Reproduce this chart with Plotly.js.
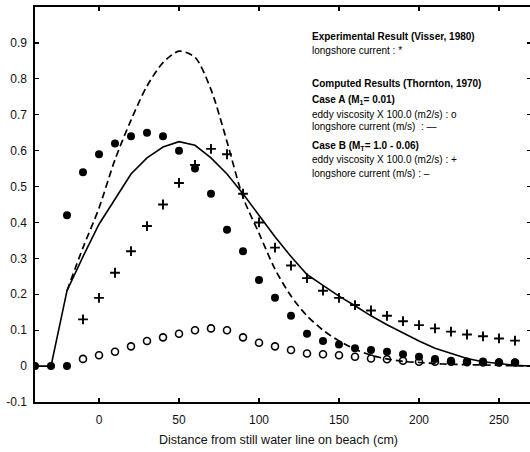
<!DOCTYPE html>
<html>
<head>
<meta charset="utf-8">
<script src="https://cdn.plot.ly/plotly-3.0.1.min.js"></script>
<style>
html,body{margin:0;padding:0;background:#fff;overflow:hidden;}
#chart{width:532px;height:452px;}
</style>
</head>
<body>
<div id="chart"></div>
<script>
// Experimental result (Visser, 1980): longshore current (filled dots)
var xExp = [-40,-30,-20,-20,-10,0,10,20,30,40,50,60,70,80,90,100,110,120,130,140,150,160,170,180,190,200,210,220,230,240,250,260];
var yExp = [0,0,0,0.42,0.54,0.59,0.62,0.64,0.65,0.64,0.60,0.55,0.48,0.38,0.32,0.24,0.19,0.14,0.09,0.07,0.06,0.05,0.045,0.04,0.033,0.026,0.02,0.015,0.013,0.013,0.011,0.01];

// Case A: eddy viscosity x 100 (open circles)
var xVisA = [-10,0,10,20,30,40,50,60,70,80,90,100,110,120,130,140,150,160,170,180,190,200,210,220,230,240,250,260];
var yVisA = [0.02,0.03,0.04,0.055,0.07,0.08,0.09,0.10,0.105,0.10,0.08,0.065,0.055,0.045,0.035,0.033,0.03,0.026,0.021,0.019,0.015,0.012,0.012,0.012,0.011,0.01,0.01,0.01];

// Case B: eddy viscosity x 100 (plus signs)
var xVisB = [-10,0,10,20,30,40,50,60,70,80,90,100,110,120,130,140,150,160,170,180,190,200,210,220,230,240,250,260];
var yVisB = [0.13,0.19,0.26,0.32,0.39,0.45,0.51,0.56,0.605,0.59,0.48,0.40,0.33,0.28,0.245,0.21,0.19,0.17,0.155,0.14,0.125,0.114,0.105,0.096,0.088,0.083,0.077,0.071];

// Case A: longshore current (solid line)
var xCurA = [-40,-30,-20,-10,0,10,20,30,40,50,60,70,80,90,100,110,120,130,140,150,160,170,180,190,200,210,220,230,240,250,260,270];
var yCurA = [0,0,0.21,0.305,0.395,0.465,0.535,0.58,0.61,0.625,0.615,0.58,0.535,0.48,0.42,0.36,0.305,0.255,0.225,0.195,0.168,0.14,0.115,0.092,0.07,0.05,0.035,0.021,0.012,0.006,0.002,0];

// Case B: longshore current (dashed line)
var xCurB = [-20,-10,0,10,20,30,40,50,60,70,80,90,100,110,120,130,140,150,160,170,180,190,200,210,220,230,240,250,260,270];
var yCurB = [0.21,0.33,0.44,0.575,0.685,0.78,0.845,0.877,0.86,0.77,0.625,0.47,0.37,0.27,0.195,0.14,0.1,0.07,0.047,0.03,0.02,0.013,0.01,0.007,0.005,0.004,0.003,0.002,0.001,0];

var xTicks = [0,50,100,150,200,250];
var yTicks = [-0.1,0,0.1,0.2,0.3,0.4,0.5,0.6,0.7,0.8,0.9];
var yTickText = ['-0.1','0','0.1','0.2','0.3','0.4','0.5','0.6','0.7','0.8','0.9'];

var legendLines = [
  {t:'<b>Experimental Result (Visser, 1980)</b>', y:37},
  {t:'longshore current : *', y:50},
  {t:'<b>Computed Results (Thornton, 1970)</b>', y:83},
  {t:'<b>Case A (M<sub>1</sub>= 0.01)</b>', y:100},
  {t:'eddy viscosity X 100.0 (m2/s) : o', y:114},
  {t:'longshore current (m/s)  : \u2014', y:127},
  {t:'<b>Case B (M<sub>T</sub>= 1.0 - 0.06)</b>', y:146},
  {t:'eddy viscosity X 100.0 (m2/s) : +', y:160},
  {t:'longshore current (m/s) : \u2013', y:173}
];

var ML = 35, MT = 7, W = 532, H = 452, MB = 50, MR = 1;
var pw = W - ML - MR, ph = H - MT - MB;

var traces = [
  {x:xCurA, y:yCurA, mode:'lines', line:{color:'#000', width:1.6}, hoverinfo:'skip'},
  {x:xCurB, y:yCurB, mode:'lines', line:{color:'#000', width:1.7, dash:'7px,4px', shape:'spline', smoothing:0.8}, hoverinfo:'skip'},
  {x:xExp, y:yExp, mode:'markers', marker:{symbol:'circle', size:8, color:'#000'}},
  {x:xVisA, y:yVisA, mode:'markers', marker:{symbol:'circle-open', size:7, color:'#000', line:{width:1.6, color:'#000'}}},
  {x:xVisB, y:yVisB, mode:'markers', marker:{symbol:'cross-thin-open', size:7, color:'#000', line:{width:1.9, color:'#000'}}}
];

var annotations = legendLines.map(function(l){
  return {
    text:l.t, xref:'paper', yref:'paper',
    x:(310-ML)/pw, y:(H-MB-l.y)/ph,
    xanchor:'left', yanchor:'middle', showarrow:false,
    font:{family:'Liberation Sans, Arial, sans-serif', size:10, color:'#000'}
  };
});
annotations.push({
  text:'Distance from still water line on beach (cm)', xref:'paper', yref:'paper',
  x:(278-ML)/pw, y:(H-MB-440)/ph, xanchor:'center', yanchor:'middle', showarrow:false,
  font:{family:'Liberation Sans, Arial, sans-serif', size:12.5, color:'#111'}
});

var layout = {
  width:W, height:H, autosize:false,
  margin:{l:ML, r:MR, t:MT, b:MB, pad:0},
  paper_bgcolor:'#fff', plot_bgcolor:'#fff',
  showlegend:false,
  font:{family:'Liberation Sans, Arial, sans-serif', size:12, color:'#111'},
  xaxis:{range:[-40,270], tickvals:xTicks, ticks:'inside', ticklen:4, tickwidth:1.2, tickcolor:'#000',
         showline:true, linewidth:1.6, linecolor:'#000', mirror:'ticks', showgrid:false, zeroline:false,
         tickfont:{size:12, color:'#111'}, ticklabelstandoff:6},
  yaxis:{range:[-0.1,1.0], tickvals:yTicks, ticktext:yTickText, ticks:'inside', ticklen:4, tickwidth:1.2, tickcolor:'#000',
         showline:true, linewidth:1.6, linecolor:'#000', mirror:'ticks', showgrid:false, zeroline:false,
         tickfont:{size:12, color:'#111'}, ticklabelstandoff:4},
  annotations:annotations
};

Plotly.newPlot('chart', traces, layout, {staticPlot:true, displayModeBar:false});
</script>
</body>
</html>
